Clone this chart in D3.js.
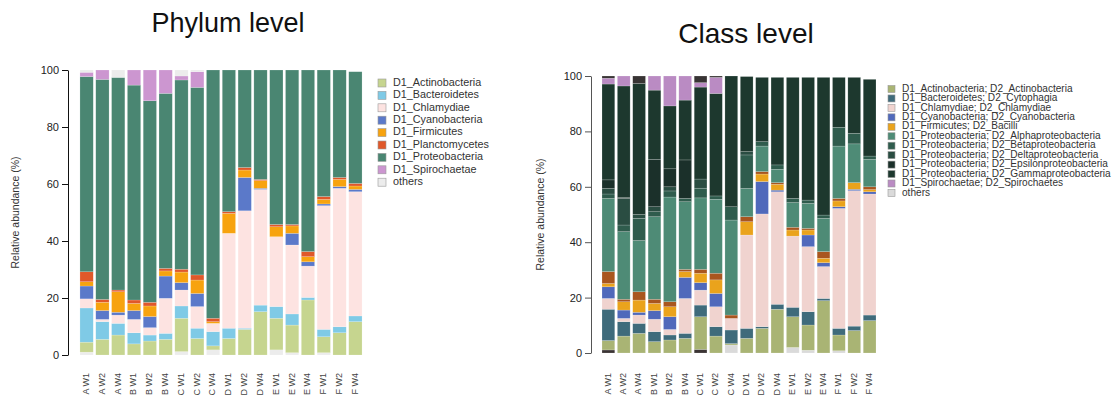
<!DOCTYPE html>
<html><head><meta charset="utf-8">
<script src="https://cdn.jsdelivr.net/npm/d3@7"></script>
<style>
body{margin:0;background:#fff;}
svg{display:block;font-family:"Liberation Sans",Arial,Helvetica,sans-serif;}
</style>
</head><body>
<svg id="c" width="1118" height="398"></svg>
<script>
// ---------- shared ----------
const samples = ["A W1","A W2","A W4","B W1","B W2","B W4","C W1","C W2","C W4",
                 "D W1","D W2","D W4","E W1","E W2","E W4","F W1","F W2","F W4"];
const yTicks = [0,20,40,60,80,100];

// ---------- Phylum level (stack order bottom -> top) ----------
const phylumOthersLow   = [1.0,0,0,0,0,0,1.2,0,1.8,0,0,0,1.8,0.8,0,0.8,0,0];
const phylumActino      = [3.5,5.5,7.0,3.9,4.9,5.5,11.7,5.8,1.4,5.8,9.0,15.2,11.1,9.7,19.3,5.6,7.8,11.7];
const phylumBactero     = [12.0,6.2,4.1,3.9,2.1,2.1,4.3,3.6,5.0,3.6,0.4,2.3,4.1,3.9,0.9,2.6,2.1,2.0];
const phylumChlamyd     = [3.2,0.8,2.9,4.7,2.6,12.3,5.6,7.6,2.9,33.3,41.2,40.6,24.5,24.2,11.0,43.4,48.6,43.6];
const phylumCyano       = [4.5,3.1,1.0,3.1,3.9,7.8,2.6,4.6,0,0,11.7,0.4,0,4.1,1.5,0.6,0.6,0.8];
const phylumFirmic      = [1.5,2.9,7.2,2.5,3.7,1.8,3.7,4.7,0.6,7.0,2.6,2.7,3.5,2.6,1.8,1.6,2.5,1.2];
const phylumPlancto     = [3.5,1.0,0.6,1.2,1.3,0.9,1.0,1.8,1.2,0.6,0.9,0.4,0.8,0.5,1.8,1.0,0.7,0.9];
const phylumProteo      = [68.5,77.2,74.6,75.4,70.7,61.4,66.4,65.8,87.1,49.7,34.2,38.4,54.2,54.2,63.7,44.4,37.7,39.2];
const phylumSpiro       = [1.5,3.3,0,5.3,10.8,8.2,1.4,5.5,0,0,0,0,0,0,0,0,0,0];
const phylumOthersTop   = [0.8,0,2.6,0,0,0,2.1,0.6,0,0,0,0,0,0,0,0,0,0];

const phylumLegend = ["D1_Actinobacteria","D1_Bacteroidetes","D1_Chlamydiae","D1_Cyanobacteria",
  "D1_Firmicutes","D1_Planctomycetes","D1_Proteobacteria","D1_Spirochaetae","others"];
const phylumColors = ["#c6d58f","#7fcae6","#fde3e1","#5b79c9","#f7a30f","#e0582a","#4a8672","#cc96d0","#ececec"];

// ---------- Class level (stack order bottom -> top) ----------
const classUnassignedLow = [1.1,0,0,0,0,0,1.3,0,0,0,0,0,0,0,0,0,0,0];
const classOthers        = [0,0,0,0,0,0,0,0,2.9,0,0,0,2.0,1.0,0,0.8,0,0];
const classActino        = [3.4,6.1,7.1,4.1,4.7,5.3,11.8,6.1,0.5,5.3,8.9,15.8,11.1,9.1,18.9,5.7,8.1,11.7];
const classCytophagia    = [11.3,5.2,3.6,3.6,1.8,1.8,4.2,3.4,4.9,3.6,0.6,1.8,3.4,4.8,0.8,2.4,1.6,2.0];
const classChlamyd       = [3.9,1.2,3.0,4.5,2.0,12.6,5.4,7.2,4.2,33.7,40.7,40.6,25.7,23.5,11.5,43.3,48.9,43.7];
const classCyano         = [4.2,3.0,1.0,3.1,4.6,7.6,2.7,4.8,0,0,11.7,0.6,0,4.2,1.4,0.6,0.5,0.8];
const classBacilli       = [1.2,3.0,4.4,2.6,3.6,2.1,3.4,4.9,0,4.8,2.7,2.1,2.2,1.8,1.6,2.1,2.4,0.8];
const classPlancto       = [4.3,0.9,3.0,1.5,1.8,0.8,1.4,2.4,1.2,1.8,0.9,0.6,1.0,0.6,2.4,0.9,0,1.0];
const classAlpha         = [26.4,24.4,18.5,29.8,37.8,24.4,25.8,26.7,34.3,10.2,9.2,4.8,8.9,9.0,12.0,18.9,14.0,9.9];
const classBeta          = [1.6,2.4,8.0,1.8,2.2,1.2,3.5,1.2,4.8,12.1,1.6,1.6,1.5,1.2,1.2,6.8,3.8,1.2];
const classDelta         = [2.0,9.6,1.4,1.8,1.5,0,3.3,0,0,1.2,0,0,0,0,0,0,0,0];
const classEpsilon       = [3.1,0.3,0,17.1,6.5,13.9,0,0,0,0,0,0,0,0,0,0,0,0];
const classGamma         = [34.6,40.3,47.3,25.0,22.7,21.6,33.2,37.0,47.2,27.1,23.2,31.6,43.7,44.3,49.7,18.0,20.2,27.7];
const classSpiro         = [2.1,3.6,0,5.1,10.8,8.7,1.6,5.8,0,0,0,0,0,0,0,0,0,0];
const classUnassignedTop = [0.8,0,2.7,0,0,0,2.4,0.5,0,0,0,0,0,0,0,0,0,0];

const classLegend = ["D1_Actinobacteria; D2_Actinobacteria","D1_Bacteroidetes; D2_Cytophagia",
  "D1_Chlamydiae; D2_Chlamydiae","D1_Cyanobacteria; D2_Cyanobacteria","D1_Firmicutes; D2_Bacilli",
  "D1_Proteobacteria; D2_Alphaproteobacteria","D1_Proteobacteria; D2_Betaproteobacteria",
  "D1_Proteobacteria; D2_Deltaproteobacteria","D1_Proteobacteria; D2_Epsilonproteobacteria",
  "D1_Proteobacteria; D2_Gammaproteobacteria","D1_Spirochaetae; D2_Spirochaetes","others"];
const classColors = ["#a9b474","#3f6b7b","#f0d3cf","#5069bb","#eaa31c","#4e8b76","#2f5c4d",
  "#2a4d42","#1b302a","#1d382e","#ba8bc3","#dadada"];
const classHiddenColors = {low:"#3b3434", plancto:"#a9561f", top:"#383434"};

const svg = d3.select("#c");

function drawChart(cfg){
  const keys = cfg.series.map((s,i)=>"k"+i);
  const rows = samples.map((s,j)=>{
    const r = {sample:s};
    cfg.series.forEach((se,i)=>{ r["k"+i] = se.values[j]; });
    return r;
  });
  const stacked = d3.stack().keys(keys)(rows);

  const x = d3.scaleBand().domain(samples).range(cfg.xRange)
    .paddingInner(cfg.padIn).paddingOuter(cfg.padIn/2);
  const y = d3.scaleLinear().domain([0,100]).range(cfg.yRange);

  const g = svg.append("g");
  g.selectAll("g.layer").data(stacked).join("g")
    .attr("fill",(d,i)=>cfg.series[i].color)
    .selectAll("rect").data(d=>d).join("rect")
      .attr("x",d=>x(d.data.sample))
      .attr("width",x.bandwidth())
      .attr("y",d=>y(d[1]))
      .attr("height",d=>Math.max(0,y(d[0])-y(d[1])))
      .attr("stroke","rgba(255,255,255,0.35)")
      .attr("stroke-width",0.5);

  // y axis
  const ax = g.append("g").attr("transform",`translate(${cfg.axisX},0)`)
    .call(d3.axisLeft(y).tickValues(yTicks).tickSize(6).tickSizeOuter(0).tickPadding(3));
  ax.select(".domain").attr("stroke",cfg.axisColor).attr("stroke-width",1);
  ax.selectAll(".tick line").attr("stroke",cfg.axisColor);
  ax.selectAll(".tick text").attr("fill","#222").style("font-size","11px")
    .style("font-family","'Liberation Sans',Arial,sans-serif");

  // y label
  g.append("text")
    .attr("transform",`translate(${cfg.yLabelX},${(cfg.yRange[0]+cfg.yRange[1])/2}) rotate(-90)`)
    .attr("text-anchor","middle").attr("dominant-baseline","middle")
    .attr("fill","#333").style("font-size","10.5px").text("Relative abundance (%)");

  // x labels
  g.selectAll("text.xl").data(samples).join("text").attr("class","xl")
    .attr("transform",d=>`translate(${x(d)+x.bandwidth()/2},${cfg.xLabelY}) rotate(-90)`)
    .attr("text-anchor","end").attr("dominant-baseline","middle")
    .attr("fill","#444").style("font-size","9px").text(d=>d);

  // title
  g.append("text").attr("x",cfg.titleX).attr("y",cfg.titleY)
    .attr("text-anchor","middle").attr("fill","#111")
    .style("font-size",cfg.titleSize+"px").text(cfg.title);

  // legend
  const lg = g.append("g");
  cfg.legend.forEach((name,i)=>{
    const cy = cfg.legY + i*cfg.legStep;
    lg.append("rect").attr("x",cfg.legX).attr("y",cy-cfg.legBox/2)
      .attr("width",cfg.legBox).attr("height",cfg.legBox)
      .attr("fill",cfg.legColors[i]).attr("stroke","#9a9a9a").attr("stroke-width",0.6);
    lg.append("text").attr("x",cfg.legX+cfg.legBox+cfg.legGap).attr("y",cy)
      .attr("dominant-baseline","middle").attr("fill","#333")
      .style("font-size",cfg.legFont+"px").text(name);
  });
}

const pc = phylumColors;
drawChart({
  series:[
    {values:phylumOthersLow,color:pc[8]},
    {values:phylumActino,color:pc[0]},
    {values:phylumBactero,color:pc[1]},
    {values:phylumChlamyd,color:pc[2]},
    {values:phylumCyano,color:pc[3]},
    {values:phylumFirmic,color:pc[4]},
    {values:phylumPlancto,color:pc[5]},
    {values:phylumProteo,color:pc[6]},
    {values:phylumSpiro,color:pc[7]},
    {values:phylumOthersTop,color:pc[8]}
  ],
  xRange:[78.7,363.3], padIn:0.16, yRange:[355,70], axisX:68, axisColor:"#111",
  yLabelX:16, xLabelY:373, title:"Phylum level", titleX:228, titleY:32, titleSize:27,
  legend:phylumLegend, legColors:phylumColors, legX:378, legY:83, legStep:12.4, legBox:8, legGap:7, legFont:10.8
});

const cc = classColors;
drawChart({
  series:[
    {values:classUnassignedLow,color:classHiddenColors.low},
    {values:classOthers,color:cc[11]},
    {values:classActino,color:cc[0]},
    {values:classCytophagia,color:cc[1]},
    {values:classChlamyd,color:cc[2]},
    {values:classCyano,color:cc[3]},
    {values:classBacilli,color:cc[4]},
    {values:classPlancto,color:classHiddenColors.plancto},
    {values:classAlpha,color:cc[5]},
    {values:classBeta,color:cc[6]},
    {values:classDelta,color:cc[7]},
    {values:classEpsilon,color:cc[8]},
    {values:classGamma,color:cc[9]},
    {values:classSpiro,color:cc[10]},
    {values:classUnassignedTop,color:classHiddenColors.top}
  ],
  xRange:[600.7,877.3], padIn:0.17, yRange:[353,76], axisX:591, axisColor:"#555",
  yLabelX:541, xLabelY:373, title:"Class level", titleX:746, titleY:43, titleSize:28,
  legend:classLegend, legColors:classColors, legX:888, legY:89, legStep:9.45, legBox:7, legGap:7, legFont:10.1
});
</script>
</body></html>
